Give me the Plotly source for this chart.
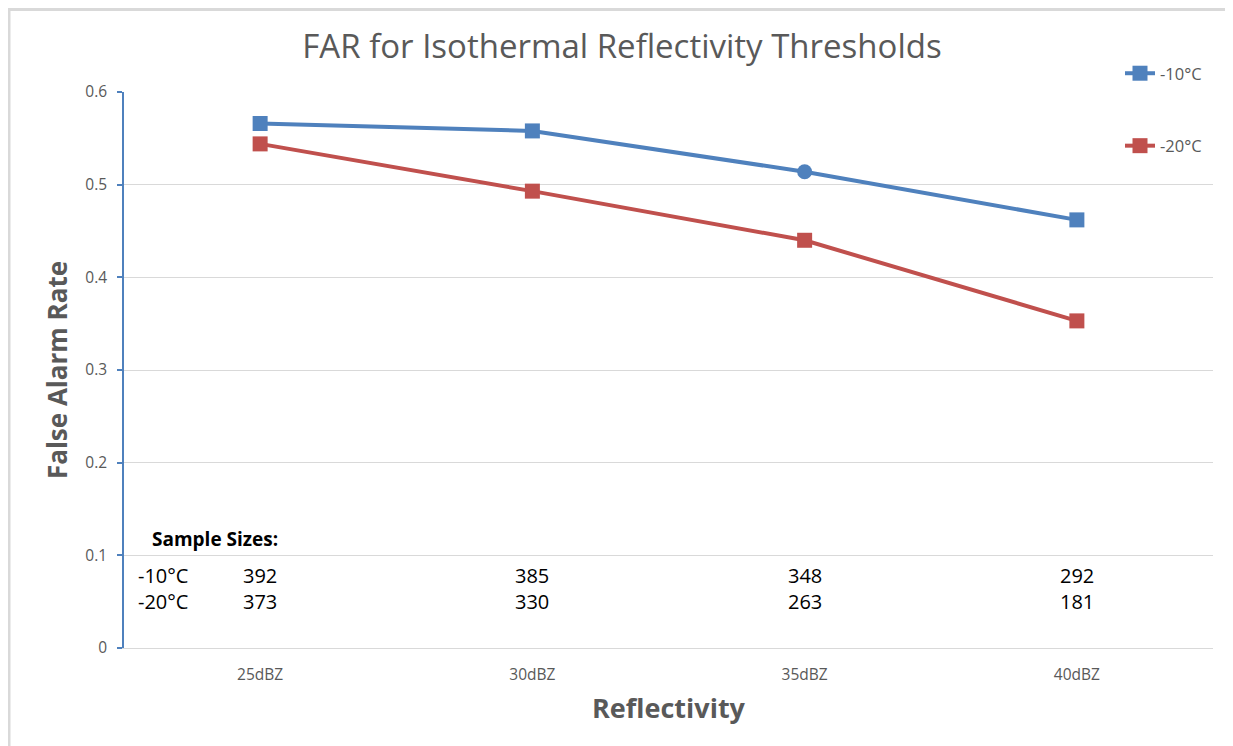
import plotly.graph_objects as go

categories = ["25dBZ", "30dBZ", "35dBZ", "40dBZ"]
far_minus10 = [0.566, 0.558, 0.514, 0.462]
far_minus20 = [0.544, 0.493, 0.440, 0.353]
samples_minus10 = [392, 385, 348, 292]
samples_minus20 = [373, 330, 263, 181]
series_names = ["-10°C", "-20°C"]
y_ticks = [0, 0.1, 0.2, 0.3, 0.4, 0.5, 0.6]
y_ticklabels = ["0", "0.1", "0.2", "0.3", "0.4", "0.5", "0.6"]

BLUE = "#4f81bd"
RED = "#c0504d"
GRAY = "#595959"
GRID = "#d9d9d9"
FONT = "Open Sans"

# page body has an 8px margin; work in reference-pixel coordinates and subtract it
OFF = 8
W, H = 1233 - OFF, 746 - OFF
PL, PR, PT, PB = 124, 1213, 92, 648  # plot area in reference pixels
L = PL - OFF
R = W - (PR - OFF)
T = PT - OFF
B = H - (PB - OFF)
pw = PR - PL
ph = PB - PT


def px_x(px):
    return (px - PL) / pw


def px_y(py):
    return (PB - py) / ph


fig = go.Figure()
fig.add_trace(go.Scatter(
    x=categories, y=far_minus10, name=series_names[0], mode="lines+markers",
    line=dict(color=BLUE, width=4),
    marker=dict(symbol=["square", "square", "circle", "square"], size=15, color=BLUE),
    legendgroup="a",
))
fig.add_trace(go.Scatter(
    x=categories, y=far_minus20, name=series_names[1], mode="lines+markers",
    line=dict(color=RED, width=4),
    marker=dict(symbol="square", size=15, color=RED),
    legendgroup="b",
))

annotations = []
annotations.append(dict(text="<b>Sample Sizes:</b>", xref="paper", yref="paper",
                        x=px_x(150), y=px_y(539), xanchor="left", yanchor="middle",
                        showarrow=False, font=dict(family=FONT, size=19, color="black")))
annotations.append(dict(text=series_names[0], xref="paper", yref="paper",
                        x=px_x(136), y=px_y(575), xanchor="left", yanchor="middle",
                        showarrow=False, font=dict(family=FONT, size=20, color="black")))
annotations.append(dict(text=series_names[1], xref="paper", yref="paper",
                        x=px_x(136), y=px_y(601), xanchor="left", yanchor="middle",
                        showarrow=False, font=dict(family=FONT, size=20, color="black")))
for c, s1, s2 in zip(categories, samples_minus10, samples_minus20):
    annotations.append(dict(text=str(s1), xref="x", yref="paper", x=c, y=px_y(575),
                            xanchor="center", yanchor="middle", showarrow=False,
                            font=dict(family=FONT, size=20, color="black")))
    annotations.append(dict(text=str(s2), xref="x", yref="paper", x=c, y=px_y(601),
                            xanchor="center", yanchor="middle", showarrow=False,
                            font=dict(family=FONT, size=20, color="black")))

shapes = [
    dict(type="line", xref="paper", yref="paper", x0=px_x(8), x1=px_x(1240),
         y0=px_y(9.5), y1=px_y(9.5), line=dict(color=GRID, width=3)),
    dict(type="line", xref="paper", yref="paper", x0=px_x(9), x1=px_x(9),
         y0=px_y(9.5), y1=px_y(760), line=dict(color=GRID, width=3)),
]

fig.update_layout(
    width=W, height=H,
    margin=dict(l=L, r=R, t=T, b=B, autoexpand=False),
    paper_bgcolor="white", plot_bgcolor="white",
    title=dict(text="FAR for Isothermal Reflectivity Thresholds", x=(622 - OFF) / W, xanchor="center",
               y=1 - (46 - OFF) / H, yanchor="middle",
               font=dict(family=FONT, size=33, color=GRAY)),
    font=dict(family=FONT, color=GRAY),
    showlegend=True,
    legend=dict(x=px_x(1120), y=px_y(56), xanchor="left", yanchor="top",
                bgcolor="rgba(0,0,0,0)", tracegroupgap=48,
                font=dict(family=FONT, size=16.5, color=GRAY),
                itemwidth=30),
    xaxis=dict(
        type="category", range=[-0.5, 3.5], showgrid=False,
        showline=True, linecolor=GRID, linewidth=1.3,
        ticks="outside", ticklen=12, tickcolor="rgba(0,0,0,0)", zeroline=False,
        tickfont=dict(family=FONT, size=15.5, color=GRAY),
        title=dict(text="<b>Reflectivity</b>", font=dict(family=FONT, size=27, color=GRAY), standoff=15),
    ),
    yaxis=dict(
        range=[0, 0.6], tickvals=y_ticks, ticktext=y_ticklabels,
        showgrid=True, gridcolor=GRID, gridwidth=1.3,
        showline=True, linecolor=BLUE, linewidth=1.5,
        ticks="outside", tickcolor=BLUE, ticklen=5, tickwidth=1.5,
        ticklabelstandoff=7,
        zeroline=False,
        tickfont=dict(family=FONT, size=15.5, color=GRAY),
        title=dict(text="<b>False Alarm Rate</b>", font=dict(family=FONT, size=26, color=GRAY), standoff=10),
    ),
    annotations=annotations,
    shapes=shapes,
)

fig.write_html("out.html")
